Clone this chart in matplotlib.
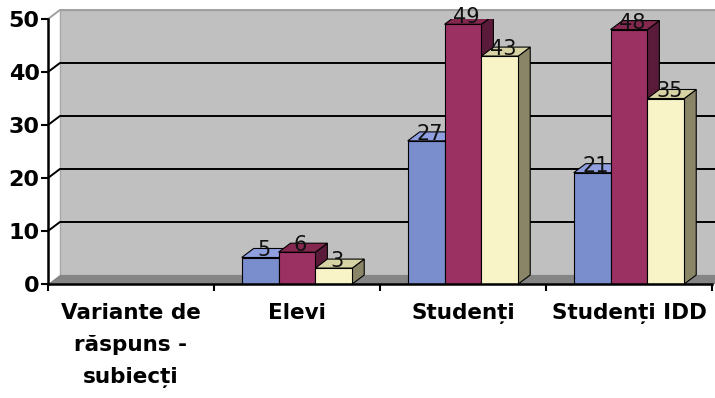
import matplotlib
matplotlib.use("Agg")
import matplotlib.pyplot as plt
from matplotlib.patches import Polygon, Rectangle

categories = ["Variante de\nrăspuns -\nsubiecți", "Elevi", "Studenți", "Studenți IDD"]
series_a = [None, 5, 27, 21]
series_b = [None, 6, 49, 48]
series_c = [None, 3, 43, 35]
y_ticks = [0, 10, 20, 30, 40, 50]

front = ["#7a8dcc", "#9b3063", "#f8f4c8"]
top = ["#8f9fe0", "#84284f", "#d8d3a4"]
side = ["#4e5c90", "#5a1a3a", "#8a8566"]

W, H = 715, 398
fig = plt.figure(figsize=(W / 100, H / 100), dpi=100)
ax = fig.add_axes([48 / W, 114 / H, 664 / W, 265 / H])
ax.set_xlim(-0.5, 3.5)
ax.set_ylim(0, 50)

dx, dy = 0.072, 1.7   # depth offset of the fake 3D
bw = 0.222

# back wall, floor, grid
ax.add_patch(Rectangle((-0.5 + dx, dy), 4.2, 50, facecolor="#c0c0c0",
                       edgecolor="#a8a8a8", lw=1, clip_on=False, zorder=0))
ax.add_patch(Polygon([(-0.5, 0), (3.7, 0), (3.7 + dx, dy), (-0.5 + dx, dy)],
                     closed=True, facecolor="#858585", edgecolor="none",
                     clip_on=False, zorder=1))
for v in y_ticks[1:]:
    col = "#a0a0a0" if v == 50 else "black"
    ax.plot([-0.5, -0.5 + dx, 3.7 + dx], [v, v + dy, v + dy], color=col,
            lw=1.4, clip_on=False, zorder=1)

# bars with top and side faces
for i, vals in enumerate([series_a, series_b, series_c]):
    off = (i - 1) * bw
    for c, v in enumerate(vals):
        if v is None:
            continue
        x0 = c + off - bw / 2
        x1 = x0 + bw
        ax.add_patch(Polygon([(x1, 0), (x1 + dx, dy), (x1 + dx, v + dy), (x1, v)],
                             closed=True, facecolor=side[i], edgecolor="black",
                             lw=0.8, zorder=2 + i))
        ax.add_patch(Polygon([(x0, v), (x1, v), (x1 + dx, v + dy), (x0 + dx, v + dy)],
                             closed=True, facecolor=top[i], edgecolor="black",
                             lw=0.8, zorder=2 + i))
        ax.bar(c + off, v, width=bw, color=front[i], edgecolor="black",
               lw=0.8, zorder=2 + i)
        ax.text(c + off + dx * 0.3, v + 0.2, str(v), ha="center", va="baseline",
                fontsize=15, color="#111111", zorder=10)

ax.set_xticks(range(len(categories)))
ax.set_xticklabels(categories, fontsize=15.5, fontweight="bold", linespacing=1.75)
ax.set_xticks([-0.5, 0.5, 1.5, 2.5, 3.5], minor=True)
ax.tick_params(axis="x", which="major", length=0, pad=14)
ax.tick_params(axis="x", which="minor", length=5, width=1.5, direction="out")
ax.set_yticks(y_ticks)
ax.set_yticklabels([str(t) for t in y_ticks], fontsize=16, fontweight="bold")
ax.tick_params(axis="y", length=5, width=1.5, pad=1)

for s in ["top", "right"]:
    ax.spines[s].set_visible(False)
for s in ["left", "bottom"]:
    ax.spines[s].set_linewidth(1.8)
    ax.spines[s].set_zorder(20)
ax.patch.set_visible(False)

fig.savefig("out.png", dpi=100)
